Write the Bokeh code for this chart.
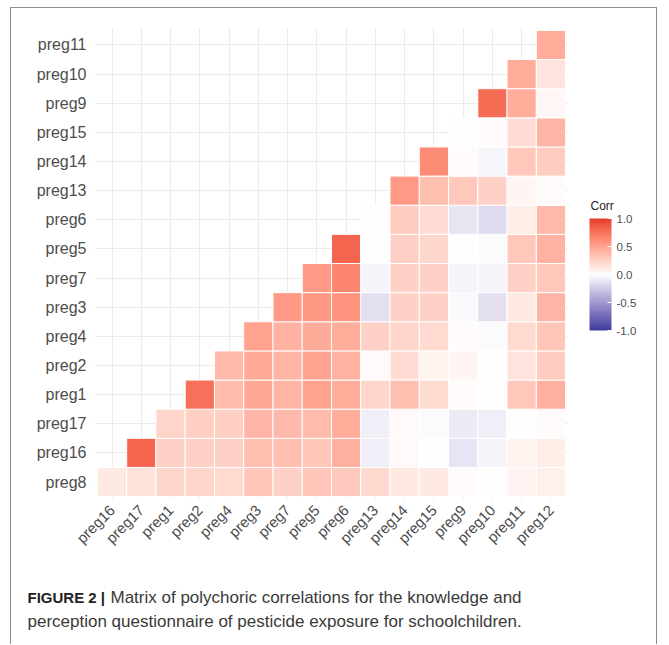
import numpy as np
from bokeh.plotting import figure
from bokeh.layouts import column, row
from bokeh.models import (ColumnDataSource, FactorRange, LinearColorMapper, ColorBar,
                          FixedTicker, PrintfTickFormatter, Label, Range1d)
from bokeh.embed import file_html
from bokeh.resources import INLINE

# ---------------- data ----------------
x_labels = ['preg16', 'preg17', 'preg1', 'preg2', 'preg4', 'preg3', 'preg7', 'preg5',
            'preg6', 'preg13', 'preg14', 'preg15', 'preg9', 'preg10', 'preg11', 'preg12']
y_labels = ['preg8', 'preg16', 'preg17', 'preg1', 'preg2', 'preg4', 'preg3', 'preg7',
            'preg5', 'preg6', 'preg13', 'preg14', 'preg15', 'preg9', 'preg10', 'preg11']

# each row: correlations of the y variable with x variables from its diagonal onward
corr_preg8 = [0.12, 0.16, 0.22, 0.22, 0.20, 0.31, 0.25, 0.31, 0.29, 0.21, 0.12, 0.12, 0.02, 0.00, 0.06, 0.08]
corr_preg16 = [0.82, 0.25, 0.25, 0.25, 0.35, 0.35, 0.31, 0.43, -0.08, 0.03, 0.00, -0.13, -0.05, 0.07, 0.10]
corr_preg17 = [0.23, 0.26, 0.26, 0.40, 0.38, 0.37, 0.45, -0.08, 0.03, -0.02, -0.10, -0.08, 0.00, 0.02]
corr_preg1 = [0.76, 0.37, 0.48, 0.40, 0.50, 0.45, 0.22, 0.35, 0.20, 0.02, 0.01, 0.30, 0.43]
corr_preg2 = [0.38, 0.47, 0.40, 0.50, 0.42, 0.03, 0.18, 0.07, 0.05, 0.00, 0.15, 0.28]
corr_preg4 = [0.50, 0.42, 0.46, 0.45, 0.25, 0.22, 0.20, 0.02, -0.02, 0.20, 0.32]
corr_preg3 = [0.55, 0.56, 0.58, -0.15, 0.25, 0.25, -0.03, -0.15, 0.12, 0.40]
corr_preg7 = [0.55, 0.65, -0.05, 0.25, 0.25, -0.05, -0.05, 0.25, 0.30]
corr_preg5 = [0.82, 0.00, 0.25, 0.22, 0.00, -0.02, 0.30, 0.42]
corr_preg6 = [0.00, 0.28, 0.18, -0.12, -0.17, 0.10, 0.38]
corr_preg13 = [0.55, 0.35, 0.30, 0.25, 0.05, 0.02]
corr_preg14 = [0.62, 0.02, -0.04, 0.30, 0.28]
corr_preg15 = [0.01, 0.02, 0.18, 0.40]
corr_preg9 = [0.78, 0.45, 0.04]
corr_preg10 = [0.45, 0.15]
corr_preg11 = [0.45]

rows = [corr_preg8, corr_preg16, corr_preg17, corr_preg1, corr_preg2, corr_preg4, corr_preg3,
        corr_preg7, corr_preg5, corr_preg6, corr_preg13, corr_preg14, corr_preg15, corr_preg9,
        corr_preg10, corr_preg11]

legend_title = "Corr"
legend_ticks = [-1.0, -0.5, 0.0, 0.5, 1.0]

caption_bold = "FIGURE 2 |"
caption_line1 = "Matrix of polychoric correlations for the knowledge and"
caption_line2 = "perception questionnaire of pesticide exposure for schoolchildren."

# ---------------- colour scale (Lab interpolation, like ggplot gradient2) ----------------
def hex2rgb(h):
    h = h.lstrip('#')
    return np.array([int(h[i:i + 2], 16) for i in (0, 2, 4)], dtype=float) / 255.0

def rgb2lab(rgb):
    c = np.where(rgb > 0.04045, ((rgb + 0.055) / 1.055) ** 2.4, rgb / 12.92)
    M = np.array([[0.4124, 0.3576, 0.1805], [0.2126, 0.7152, 0.0722], [0.0193, 0.1192, 0.9505]])
    xyz = M @ c / np.array([0.95047, 1.0, 1.08883])
    f = np.where(xyz > 0.008856, np.cbrt(xyz), 7.787 * xyz + 16 / 116)
    return np.array([116 * f[1] - 16, 500 * (f[0] - f[1]), 200 * (f[1] - f[2])])

def lab2hex(lab):
    L, a, b = lab
    fy = (L + 16) / 116
    fx = fy + a / 500
    fz = fy - b / 200
    f = np.array([fx, fy, fz])
    xyz = np.where(f ** 3 > 0.008856, f ** 3, (f - 16 / 116) / 7.787) * np.array([0.95047, 1.0, 1.08883])
    Minv = np.array([[3.2406, -1.5372, -0.4986], [-0.9689, 1.8758, 0.0415], [0.0557, -0.2040, 1.0570]])
    c = Minv @ xyz
    c = np.where(c > 0.0031308, 1.055 * np.clip(c, 0, None) ** (1 / 2.4) - 0.055, 12.92 * c)
    c = np.clip(c, 0, 1)
    return '#%02x%02x%02x' % tuple(int(round(v * 255)) for v in c)

low_lab = rgb2lab(hex2rgb('#3b3d9e'))
mid_lab = rgb2lab(hex2rgb('#ffffff'))
high_lab = rgb2lab(hex2rgb('#e8392b'))
palette = []
n = 256
for i in range(n):
    t = i / (n - 1) * 2 - 1
    if t < 0:
        lab = mid_lab + (low_lab - mid_lab) * (-t)
    else:
        lab = mid_lab + (high_lab - mid_lab) * t
    palette.append(lab2hex(lab))

mapper = LinearColorMapper(palette=palette, low=-1, high=1)

# ---------------- heat map ----------------
xs, ys, vals = [], [], []
for r, row_vals in enumerate(rows):
    for k, v in enumerate(row_vals):
        xs.append(x_labels[r + k])
        ys.append(y_labels[r])
        vals.append(v)
source = ColumnDataSource(dict(x=xs, y=ys, corr=vals))

CW = 645          # content width inside the frame border
PW = 565          # heat-map figure width
PH = 560          # heat-map figure height
p = figure(width=PW, height=PH, output_backend="svg", toolbar_location=None,
           x_range=FactorRange(*x_labels, range_padding=0.1, range_padding_units="absolute"),
           y_range=FactorRange(*y_labels, range_padding=0.1, range_padding_units="absolute"),
           min_border_left=83, min_border_right=PW - 557, min_border_top=19,
           min_border_bottom=PH - 491)
p.frame_align = False
p.outline_line_color = None
p.background_fill_color = "white"

p.rect(x='x', y='y', width=1, height=1, source=source,
       fill_color={'field': 'corr', 'transform': mapper},
       line_color='white', line_width=1)

for ax in (p.xaxis[0], p.yaxis[0]):
    ax.axis_line_color = None
    ax.major_tick_line_color = None
    ax.minor_tick_line_color = None
    ax.major_tick_out = 0
    ax.major_tick_in = 0
    ax.major_label_text_font = "Liberation Sans"
    ax.major_label_text_color = "#4d4d4d"
p.yaxis.major_label_text_font_size = "16px"
p.xaxis.major_label_text_font_size = "15px"
p.yaxis.major_label_standoff = 8
p.xaxis.major_label_standoff = 8
p.xaxis.major_label_orientation = np.pi / 4

p.xgrid.grid_line_color = "#ebebeb"
p.ygrid.grid_line_color = "#ebebeb"

# ---------------- legend (colour bar) ----------------
LW = CW - PW
leg = figure(width=LW, height=PH, output_backend="svg", toolbar_location=None,
             x_range=Range1d(0, LW), y_range=Range1d(0, PH),
             x_axis_type=None, y_axis_type=None, min_border=0)
leg.frame_align = False
leg.outline_line_color = None
leg.grid.visible = False
cb = ColorBar(color_mapper=mapper, width=22, height=112, title=None,
              ticker=FixedTicker(ticks=legend_ticks),
              formatter=PrintfTickFormatter(format="%.1f"),
              major_label_text_font="Liberation Sans", major_label_text_font_size="11.5px",
              major_label_text_color="#4d4d4d",
              major_tick_line_color="white", major_tick_in=4, major_tick_out=0,
              minor_tick_line_color=None, bar_line_color=None,
              label_standoff=5, padding=0, location=(13, PH - 322),
              background_fill_color=None, border_line_color=None)
leg.add_layout(cb, "center")
leg.add_layout(Label(x=14, y=PH - 197, text=legend_title, text_font="Liberation Sans",
                     text_font_size="12px", text_color="#222222", text_baseline="middle"))

# ---------------- caption ----------------
CH = 76
cap = figure(width=CW, height=CH, output_backend="svg", toolbar_location=None,
             x_range=Range1d(0, CW), y_range=Range1d(0, CH),
             x_axis_type=None, y_axis_type=None, min_border=0)
cap.frame_align = False
cap.outline_line_color = None
cap.grid.visible = False
cap_font = "Liberation Sans"
cap.add_layout(Label(x=16, y=CH - 29, text=caption_bold,
                     text_font=cap_font, text_font_style="bold", text_font_size="15px",
                     text_color="#222222", text_baseline="middle"))
cap.add_layout(Label(x=99, y=CH - 29, text=caption_line1,
                     text_font=cap_font, text_font_size="17px",
                     text_color="#3a3a3a", text_baseline="middle"))
cap.add_layout(Label(x=16, y=CH - 53, text=caption_line2,
                     text_font=cap_font, text_font_size="17px",
                     text_color="#3a3a3a", text_baseline="middle"))

layout = column(row(p, leg, spacing=0), cap, spacing=0,
                styles={"border-top": "1px solid #8c8c8c", "border-left": "1px solid #8c8c8c",
                        "border-right": "1px solid #8c8c8c",
                        "margin-left": "10px", "margin-top": "7px"})

open("out.html", "w").write(file_html(layout, INLINE))
